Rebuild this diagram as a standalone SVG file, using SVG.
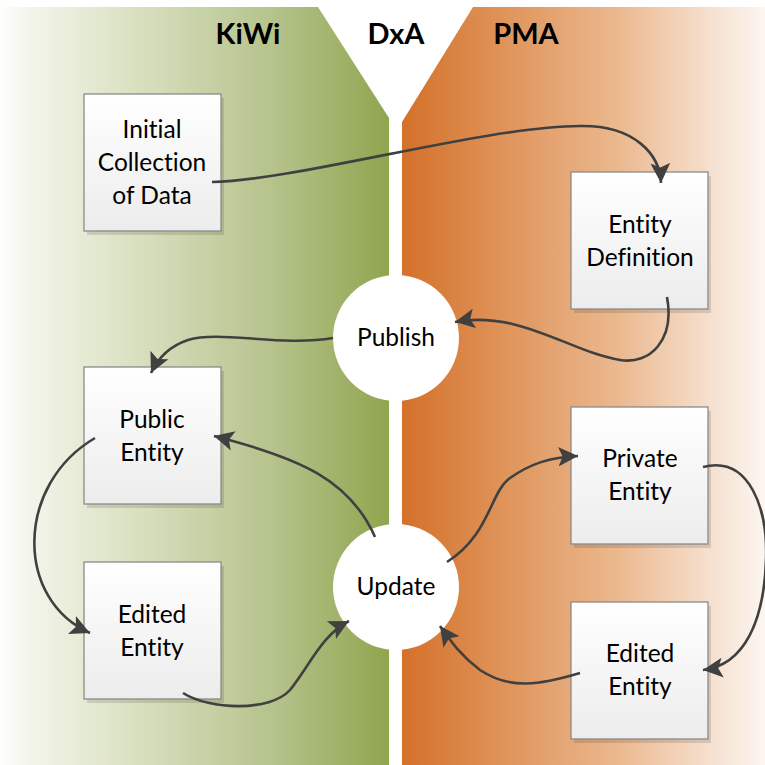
<svg xmlns="http://www.w3.org/2000/svg" width="765" height="765" viewBox="0 0 765 765">
<defs>
<linearGradient id="gGreen" gradientUnits="userSpaceOnUse" x1="0" y1="0" x2="389" y2="0">
<stop offset="0" stop-color="#fefefd"/>
<stop offset="0.08" stop-color="#f3f5ea"/>
<stop offset="0.35" stop-color="#d9e0c0"/>
<stop offset="0.7" stop-color="#b5c38c"/>
<stop offset="1" stop-color="#91a54f"/>
</linearGradient>
<linearGradient id="gOrange" gradientUnits="userSpaceOnUse" x1="402" y1="0" x2="765" y2="0">
<stop offset="0" stop-color="#d4712a"/>
<stop offset="0.3" stop-color="#e0965d"/>
<stop offset="0.6" stop-color="#ebb990"/>
<stop offset="0.85" stop-color="#f6e0cf"/>
<stop offset="1" stop-color="#fcf6f0"/>
</linearGradient>
<linearGradient id="gBox" x1="0" y1="0" x2="0" y2="1">
<stop offset="0" stop-color="#ffffff"/>
<stop offset="1" stop-color="#ececec"/>
</linearGradient>
<marker id="arr" markerUnits="userSpaceOnUse" markerWidth="22" markerHeight="22" refX="18" refY="9" orient="auto" viewBox="0 0 20 18">
<path d="M0,0 L18,9 L0,18 L4,9 Z" fill="#404040"/>
</marker>
<style>
.box{fill:url(#gBox);stroke:#8a8a8a;stroke-width:1.3}
.shadow{fill:#000;opacity:0.12}
.lbl{font-family:Lato,"Open Sans",sans-serif;font-size:24.5px;fill:#000;text-anchor:middle;font-variant-ligatures:none}
.ttl{font-family:Lato,"Open Sans",sans-serif;font-size:29px;font-weight:bold;fill:#000;text-anchor:middle}
.circ{fill:#ffffff}
.con{fill:none;stroke:#404040;stroke-width:2.6;marker-end:url(#arr)}
</style>
</defs>
<rect width="765" height="765" fill="#ffffff"/>
<g id="regions">
<path d="M0,7 H318 L389,118 V765 H0 Z" fill="url(#gGreen)"/>
<path d="M473,7 H765 V765 H402 V122 Z" fill="url(#gOrange)"/>
</g>
<g id="titles">
<text class="ttl" x="248" y="44">KiWi</text>
<text class="ttl" x="396" y="44">DxA</text>
<text class="ttl" x="526" y="44">PMA</text>
</g>
<g id="publish">
<circle class="circ" cx="396" cy="338" r="63"/>
<text class="lbl" x="396" y="346">Publish</text>
</g>
<g id="update">
<circle class="circ" cx="396" cy="587" r="63"/>
<text class="lbl" x="396" y="595">Update</text>
</g>
<g id="initial">
<rect class="shadow" x="87" y="98" width="137" height="137"/>
<rect class="box" x="84" y="94" width="137" height="137"/>
<text class="lbl" x="152" y="138">Initial</text>
<text class="lbl" x="152" y="171">Collection</text>
<text class="lbl" x="152" y="204">of Data</text>
</g>
<g id="entityDefinition">
<rect class="shadow" x="574" y="176" width="137" height="137"/>
<rect class="box" x="571" y="172" width="137" height="137"/>
<text class="lbl" x="640" y="233">Entity</text>
<text class="lbl" x="640" y="266">Definition</text>
</g>
<g id="publicEntity">
<rect class="shadow" x="87" y="371" width="137" height="137"/>
<rect class="box" x="84" y="367" width="137" height="137"/>
<text class="lbl" x="152" y="428">Public</text>
<text class="lbl" x="152" y="461">Entity</text>
</g>
<g id="editedEntityLeft">
<rect class="shadow" x="87" y="566" width="137" height="137"/>
<rect class="box" x="84" y="562" width="137" height="137"/>
<text class="lbl" x="152" y="623">Edited</text>
<text class="lbl" x="152" y="656">Entity</text>
</g>
<g id="privateEntity">
<rect class="shadow" x="574" y="411" width="137" height="137"/>
<rect class="box" x="571" y="407" width="137" height="137"/>
<text class="lbl" x="640" y="467">Private</text>
<text class="lbl" x="640" y="500">Entity</text>
</g>
<g id="editedEntityRight">
<rect class="shadow" x="574" y="606" width="137" height="137"/>
<rect class="box" x="571" y="602" width="137" height="137"/>
<text class="lbl" x="640" y="662">Edited</text>
<text class="lbl" x="640" y="695">Entity</text>
</g>
<g id="connectors">
<path class="con" d="M212,182 C300,180 480,127 580,126 C635,125 660,155 661,183"/>
<path class="con" d="M667,297 C675,340 650,365 620,360 C570,352 520,310 455,322"/>
<path class="con" d="M333,338 C280,347 220,330 188,340 C170,346 158,358 151,373"/>
<path class="con" d="M375,537 C350,480 300,458 214,436"/>
<path class="con" d="M95,438 C15,485 15,600 90,633"/>
<path class="con" d="M183,693 C210,710 270,712 290,690 C310,665 322,635 349,621"/>
<path class="con" d="M447,562 C490,535 490,492 510,478 C530,464 550,457 578,456"/>
<path class="con" d="M703,467 C750,455 768,510 766,560 C764,620 745,665 703,670"/>
<path class="con" d="M580,673 C540,685 510,690 480,670 C460,655 450,640 440,626"/>
</g>
</svg>
